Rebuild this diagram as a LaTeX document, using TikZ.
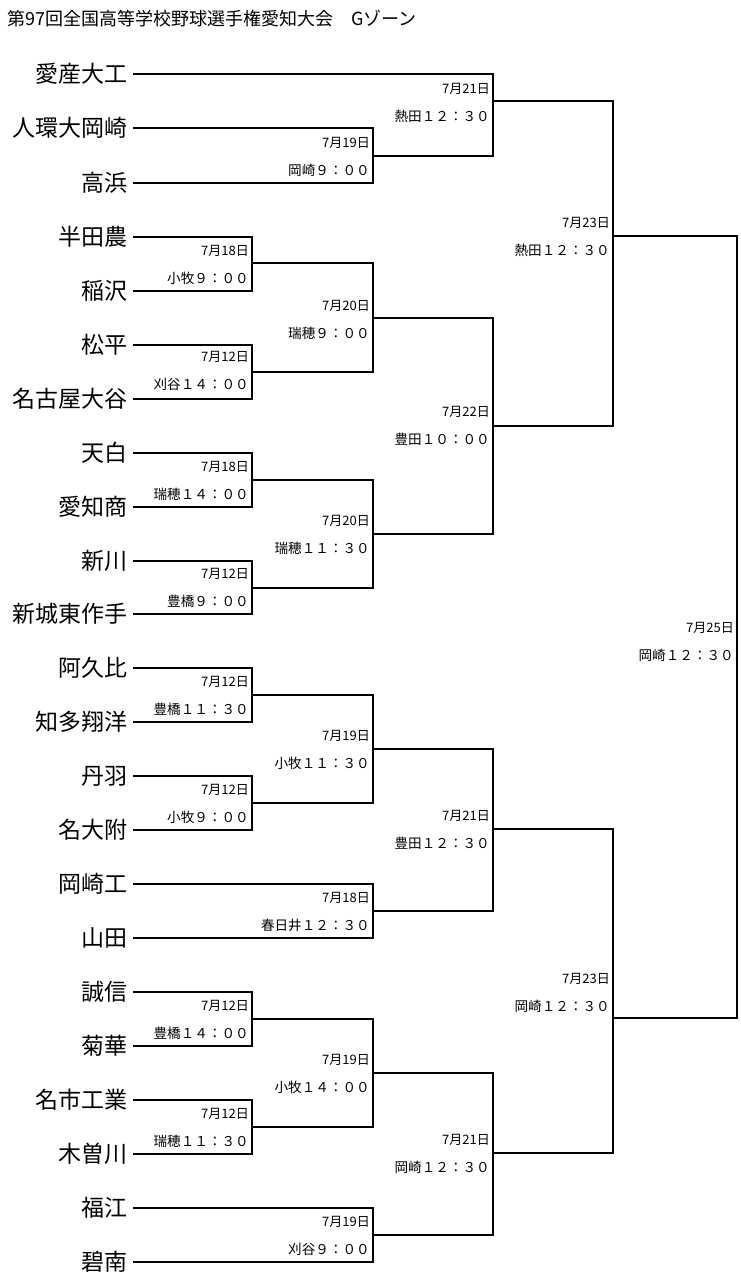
\documentclass[tikz,border=0pt]{standalone}
\usepackage{fontspec}
\setmainfont{Noto Sans CJK JP}

\newcommand\bracket[8]{%
\draw[line] (#1) -| (#3,#5) |- (#2);
\coordinate (#4) at (#3,#5);
\node[datelbl] at (#3-3,#6) {#7};
\node[timelbl] at (#3-3,#6+27) {#8};
}

\begin{document}
\begin{tikzpicture}[x=1pt,y=-1pt,
  line/.style={line width=1.3pt},
  team/.style={anchor=east,inner sep=0pt,font=\fontsize{23}{23}\selectfont},
  datelbl/.style={anchor=east,inner sep=0pt,font=\fontsize{13}{13}\selectfont},
  timelbl/.style={anchor=east,inner sep=0pt,font=\fontsize{13.6}{14}\selectfont}]
\useasboundingbox (0,0) rectangle (740,1280);
\node[anchor=west,inner sep=0pt,font=\fontsize{18}{18}\selectfont] (title) at (7,19)
  {第97回全国高等学校野球選手権愛知大会　Gゾーン};

\foreach \n/\y/\name in {1/74/愛産大工,2/128/人環大岡崎,3/183/高浜,4/237/半田農,
  5/291/稲沢,6/345/松平,7/399/名古屋大谷,8/453/天白,9/507/愛知商,10/561/新川,
  11/614/新城東作手,12/668/阿久比,13/722/知多翔洋,14/776/丹羽,15/830/名大附,
  16/884/岡崎工,17/938/山田,18/992/誠信,19/1046/菊華,20/1100/名市工業,
  21/1154/木曽川,22/1208/福江,23/1262/碧南}{
  \node[team] (t\n) at (128,\y) {\name};
  \coordinate (e\n) at (133,\y);
}

% upper half
\bracket{e2}{e3}{373}{m23}{156}{143}{7月19日}{岡崎９：００}
\bracket{e1}{m23}{493}{m1}{101}{89}{7月21日}{熱田１２：３０}
\bracket{e4}{e5}{252}{m45}{263}{251}{7月18日}{小牧９：００}
\bracket{e6}{e7}{252}{m67}{372}{357}{7月12日}{刈谷１４：００}
\bracket{m45}{m67}{373}{m47}{318}{306}{7月20日}{瑞穂９：００}
\bracket{e8}{e9}{252}{m89}{480}{467}{7月18日}{瑞穂１４：００}
\bracket{e10}{e11}{252}{m1011}{588}{574}{7月12日}{豊橋９：００}
\bracket{m89}{m1011}{373}{m811}{534}{521}{7月20日}{瑞穂１１：３０}
\bracket{m47}{m811}{493}{m411}{426}{412}{7月22日}{豊田１０：００}
\bracket{m1}{m411}{613}{mA}{236}{223}{7月23日}{熱田１２：３０}

% lower half
\bracket{e12}{e13}{252}{m1213}{695}{682}{7月12日}{豊橋１１：３０}
\bracket{e14}{e15}{252}{m1415}{803}{790}{7月12日}{小牧９：００}
\bracket{m1213}{m1415}{373}{m1215}{749}{736}{7月19日}{小牧１１：３０}
\bracket{e16}{e17}{373}{m1617}{911}{898}{7月18日}{春日井１２：３０}
\bracket{m1215}{m1617}{493}{m1217}{829}{816}{7月21日}{豊田１２：３０}
\bracket{e18}{e19}{252}{m1819}{1019}{1006}{7月12日}{豊橋１４：００}
\bracket{e20}{e21}{252}{m2021}{1127}{1114}{7月12日}{瑞穂１１：３０}
\bracket{m1819}{m2021}{373}{m1821}{1073}{1060}{7月19日}{小牧１４：００}
\bracket{e22}{e23}{373}{m2223}{1235}{1222}{7月19日}{刈谷９：００}
\bracket{m1821}{m2223}{493}{m1823}{1153}{1140}{7月21日}{岡崎１２：３０}
\bracket{m1217}{m1823}{613}{mB}{1018}{979}{7月23日}{岡崎１２：３０}

% final
\bracket{mA}{mB}{737}{final}{643}{628}{7月25日}{岡崎１２：３０}
\end{tikzpicture}
\end{document}
